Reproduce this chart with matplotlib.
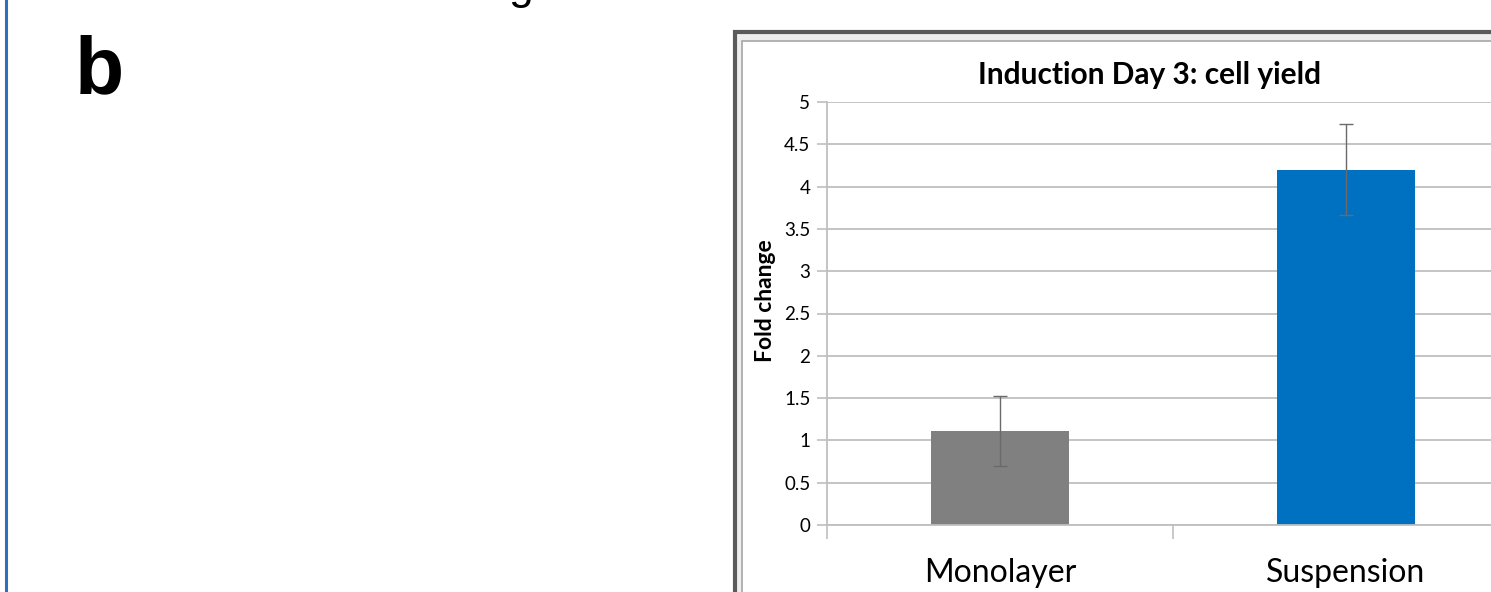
import numpy as np
import matplotlib
matplotlib.use('Agg')
import matplotlib.pyplot as plt
from matplotlib.patches import Rectangle

# 数据
categories = ['Monolayer', 'Suspension']
fold_change = [1.11, 4.20]
err = [0.41, 0.54]
bar_colors = ['#808080', '#0070c0']
y_ticks = [0, 0.5, 1, 1.5, 2, 2.5, 3, 3.5, 4, 4.5, 5]
y_labels = ['0', '0.5', '1', '1.5', '2', '2.5', '3', '3.5', '4', '4.5', '5']

W, H = 1491, 592
fig = plt.figure(figsize=(W / 100, H / 100), dpi=100)


def fx(px):
    return px / W


def fy(py):
    return 1 - py / H


# 左侧蓝色边线
fig.add_artist(plt.Line2D([fx(6), fx(6)], [0, 1], color='#2f6fc0', lw=2.2))

# 面板字母 + 被截断的标题字符
fig.text(fx(75), fy(93), 'b', fontsize=58, fontweight='bold',
         family='Liberation Sans', ha='left', va='baseline')
fig.text(fx(508), fy(-1), 'g', fontsize=32, family='Liberation Sans',
         ha='left', va='baseline')

# 图表外框 (双线)
outer = Rectangle((fx(735), fy(700)), fx(900), fy(32) - fy(700),
                  transform=fig.transFigure, facecolor='#eeeeee',
                  edgecolor='#5a5a5a', lw=3.0, zorder=0)
inner = Rectangle((fx(742), fy(700)), fx(900), fy(41) - fy(700),
                  transform=fig.transFigure, facecolor='white',
                  edgecolor='#a6a6a6', lw=1.2, zorder=0)
fig.add_artist(outer)
fig.add_artist(inner)

# 主坐标轴 (右侧超出图像)
ax = fig.add_axes([fx(827), fy(525), fx(1519) - fx(827), fy(102) - fy(525)])
ax.patch.set_alpha(0)
x = np.arange(len(categories))
ax.bar(x, fold_change, width=0.4, color=bar_colors, zorder=2)
ax.errorbar(x, fold_change, yerr=err, fmt='none', ecolor='#6a6a6a',
            elinewidth=1.0, capsize=5, capthick=1.0, zorder=3)

ax.set_xlim(-0.5, 1.5)
ax.set_ylim(0, 5)
ax.set_yticks(y_ticks)
ax.set_yticklabels(y_labels, family='Lato', fontsize=13.5)
ax.yaxis.grid(True, color='#bfbfbf', lw=1.3, zorder=0)
ax.set_axisbelow(True)
ax.tick_params(axis='y', length=7, width=1.2, color='#bfbfbf', pad=5)

ax.set_xticks(x)
ax.set_xticklabels(categories, family='Lato', fontsize=23)
ax.set_xticks([-0.5, 0.5, 1.5], minor=True)
ax.tick_params(axis='x', which='major', length=0, pad=24)
ax.tick_params(axis='x', which='minor', length=10, width=1.2, color='#bfbfbf')

for side in ['top', 'right']:
    ax.spines[side].set_visible(False)
for side in ['left', 'bottom']:
    ax.spines[side].set_color('#bfbfbf')
    ax.spines[side].set_linewidth(1.3)

fig.text(fx(765), fy(301), 'Fold change', rotation=90, family='Lato',
         fontsize=16.5, fontweight='bold', ha='center', va='center')
fig.text(fx(1150), fy(75), 'Induction Day 3: cell yield', family='Lato',
         fontsize=21.5, fontweight='bold', ha='center', va='center')

plt.savefig('out.png', dpi=100)
